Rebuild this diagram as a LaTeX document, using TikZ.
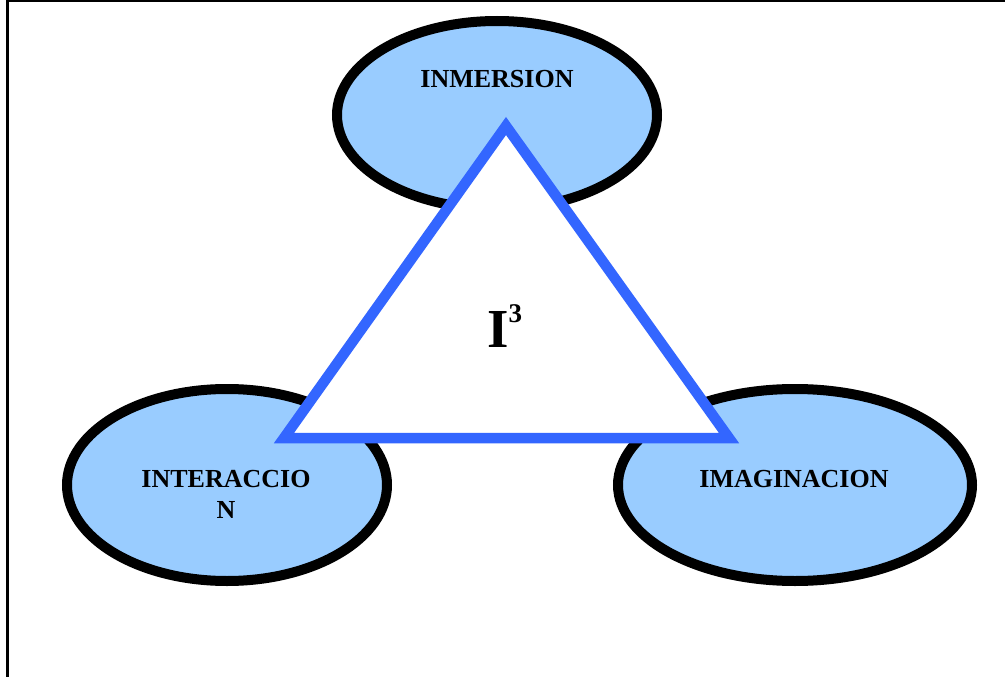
\documentclass[tikz,border=0pt]{standalone}
\usepackage{fontspec}
\setmainfont{Liberation Serif}
\definecolor{lightblue}{RGB}{153,204,255}
\definecolor{triblue}{RGB}{51,102,255}
\tikzset{
  bubble/.style={draw=black, line width=10pt, fill=lightblue},
  lbl/.style={font=\fontsize{26}{31}\selectfont\bfseries, align=center, inner sep=0pt},
  tri/.style={draw=triblue, line width=10.5pt, fill=white, line join=miter},
}
\begin{document}
\begin{tikzpicture}[x=1pt,y=-1pt]
\useasboundingbox (0,0) rectangle (1005,677);
\clip (0,0) rectangle (1005,677);
\fill[white] (0,0) rectangle (1005,677);
% frame
\draw[line width=3pt] (7,690) -- (7,1) -- (1015,1);
% ellipses
\draw[bubble] (497,115) ellipse [x radius=160, y radius=94];
\draw[bubble] (227,485) ellipse [x radius=160, y radius=96];
\draw[bubble] (795,485) ellipse [x radius=177, y radius=96];
% triangle
\coordinate (A) at (506,126);
\coordinate (B) at (284,438);
\coordinate (C) at (729,438);
\draw[tri] (A) -- (B) -- (C) -- cycle;
% labels
\node[lbl, anchor=base] (inm) at (497,88) {INMERSION};
\node[lbl, anchor=base] (int) at (226,518) {INTERACCIO\\N};
\node[lbl, anchor=base] (ima) at (794,487) {IMAGINACION};
\node[inner sep=0pt, anchor=base west] (i3) at (487,347) {\fontsize{55}{55}\selectfont\bfseries I\raisebox{25pt}{\fontsize{27}{27}\selectfont 3}};
\end{tikzpicture}
\end{document}
